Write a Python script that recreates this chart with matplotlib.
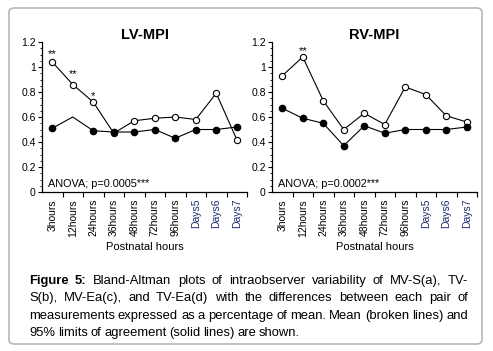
import matplotlib.pyplot as plt
from matplotlib.patches import FancyBboxPatch
from matplotlib.ticker import MultipleLocator

plt.rcParams['font.family'] = ['Liberation Sans', 'DejaVu Sans']

categories = ["3hours", "12hours", "24hours", "36hours", "48hours",
              "72hours", "96hours", "Days5", "Days6", "Days7"]

lv_open = [1.04, 0.86, 0.72, 0.47, 0.57, 0.59, 0.60, 0.58, 0.79, 0.42]
lv_filled = [0.51, 0.60, 0.49, 0.48, 0.48, 0.50, 0.43, 0.50, 0.50, 0.52]
lv_stars = {0: (1.10, "**"), 1: (0.94, "**"), 2: (0.77, "*")}

rv_open = [0.93, 1.08, 0.73, 0.50, 0.63, 0.54, 0.84, 0.78, 0.61, 0.56]
rv_filled = [0.67, 0.59, 0.55, 0.37, 0.53, 0.47, 0.50, 0.50, 0.50, 0.52]
rv_stars = {1: (1.13, "**")}

W, H = 493, 351
fig = plt.figure(figsize=(W / 100, H / 100), dpi=100)

# rounded frame around the whole figure
frame = FancyBboxPatch((9 / W, 7 / H), 473 / W, 336 / H,
                       boxstyle="round,pad=0,rounding_size=0.012",
                       transform=fig.transFigure, fill=False,
                       edgecolor="#b8b8b8", linewidth=1.2)
fig.patches.append(frame)


def panel(left, title, opn, fil, stars, anova, filled_skip=None):
    ax = fig.add_axes([left / W, 1 - 192 / H, 205 / W, 150 / H])
    x = list(range(len(categories)))
    ax.plot(x, opn, color="black", lw=0.8, marker="o", ms=4.5,
            mfc="white", mec="black", mew=0.8)
    mark = [i for i in x if i != filled_skip]
    ax.plot(x, fil, color="black", lw=0.8, marker="o", ms=4.5,
            mfc="black", mec="black", markevery=mark)
    for i, (y, s) in stars.items():
        ax.text(i, y, s, ha="center", va="center", fontsize=8)
    ax.text(-0.22, 0.065, anova, fontsize=7.8, va="center")
    ax.set_xlim(-0.5, 9.5)
    ax.set_ylim(0, 1.2)
    ax.yaxis.set_minor_locator(MultipleLocator(0.05))
    ax.set_yticks([0, 0.2, 0.4, 0.6, 0.8, 1.0, 1.2],
                  ["0", "0.2", "0.4", "0.6", "0.8", "1", "1.2"])
    ax.set_xticks(x, categories, rotation=90)
    ax.set_xticks([i + 0.5 for i in x], minor=True)
    ax.tick_params(axis="x", which="major", length=0, labelsize=7.5, pad=5)
    ax.tick_params(axis="x", which="minor", length=3.5, width=0.8, direction="out")
    ax.tick_params(axis="y", which="major", length=3, width=0.8, labelsize=7.5, pad=1.5)
    ax.tick_params(axis="y", which="minor", length=1.8, width=0.6)
    for lab in ax.get_xticklabels():
        if lab.get_text().startswith("Days"):
            lab.set_color("#1e2a6e")
    for s in ("top", "right"):
        ax.spines[s].set_visible(False)
    for s in ("left", "bottom"):
        ax.spines[s].set_linewidth(0.9)
    ax.set_title(title, fontsize=10.5, fontweight="bold", pad=2)
    ax.set_xlabel("Postnatal hours", fontsize=8, labelpad=4)
    ax.patch.set_alpha(0)
    return ax


panel(42, "LV-MPI", lv_open, lv_filled, lv_stars, "ANOVA; p=0.0005***", filled_skip=1)
panel(272, "RV-MPI", rv_open, rv_filled, rv_stars, "ANOVA; p=0.0002***")

# justified caption (baselines on whole pixels so words line up)
caption_lines = [
    [("Figure", True), ("5:", True)] + [(w, False) for w in
     "Bland-Altman plots of intraobserver variability of MV-S(a), TV-".split()],
    [(w, False) for w in
     "S(b), MV-Ea(c), and TV-Ea(d) with the differences between each pair of".split()],
    [(w, False) for w in
     "measurements expressed as a percentage of mean. Mean (broken lines) and".split()],
    [(w, False) for w in "95% limits of agreement (solid lines) are shown.".split()],
]
x_left, x_right = 29, 468
line_base = [284, 301, 319, 336]
renderer = fig.canvas.get_renderer()
for li, (words, yy) in enumerate(zip(caption_lines, line_base)):
    texts = []
    for w, bold in words:
        t = fig.text(0, (H - yy) / H, w, fontsize=9.4, va="baseline", ha="left",
                     fontweight="bold" if bold else "normal")
        texts.append(t)
    widths = [t.get_window_extent(renderer).width for t in texts]
    if li < len(caption_lines) - 1:
        gap = (x_right - x_left - sum(widths)) / (len(texts) - 1)
    else:
        gap = 2.8
    cx = x_left
    for t, wd in zip(texts, widths):
        t.set_x(cx / W)
        cx += wd + gap

fig.savefig("out.png", dpi=100)
